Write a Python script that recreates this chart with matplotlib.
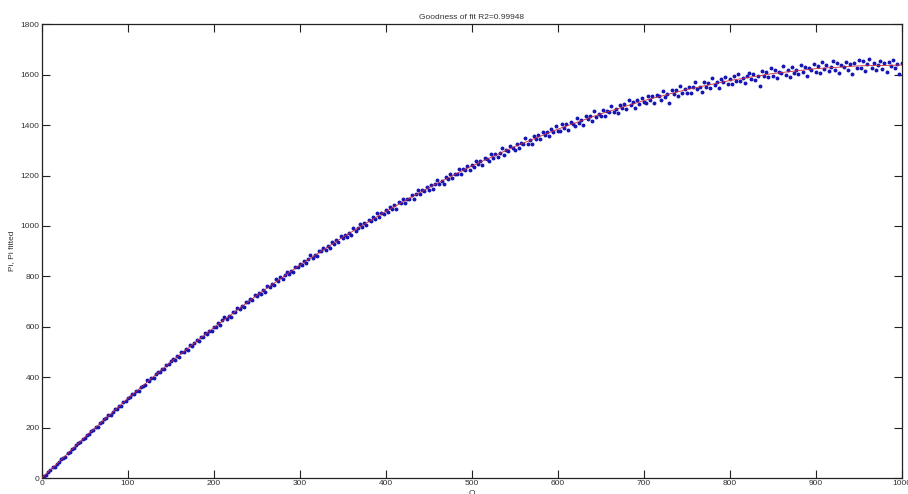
import numpy as np
import matplotlib
matplotlib.use("Agg")
import matplotlib.pyplot as plt

plt.rcParams['font.family'] = ['Liberation Sans', 'DejaVu Sans']

title_text = "Goodness of fit R2=0.99948"
x_label = "Q"
y_label = "Pi, Pi fitted"

x_ticks = [0, 100, 200, 300, 400, 500, 600, 700, 800, 900, 1000]
y_ticks = [0, 200, 400, 600, 800, 1000, 1200, 1400, 1600, 1800]

# fitted curve, sampled every 50 units of Q
q_fit = [0, 50, 100, 150, 200, 250, 300, 350, 400, 450, 500,
         550, 600, 650, 700, 750, 800, 850, 900, 950, 1000]
p_fit = [0, 162.1, 315.6, 460.6, 597.0, 724.9, 844.3, 955.3, 1057.7, 1151.8, 1237.5,
         1314.8, 1383.8, 1444.5, 1496.8, 1540.9, 1576.7, 1604.3, 1623.7, 1634.9, 1638.0]

# measured Pi, one value every 2.5 units of Q (2.5 ... 1000)
q_obs = np.arange(1, 401) * 2.5
p_obs = [
    9, 14, 26, 31, 44, 46, 58, 63, 75, 81, 86, 100, 104, 116, 118, 131, 141, 144, 155, 160,
    172, 175, 189, 192, 203, 203, 218, 222, 236, 238, 250, 250, 263, 276, 274, 287, 287, 304, 306, 317,
    321, 335, 333, 347, 346, 363, 367, 369, 388, 386, 398, 397, 412, 422, 421, 433, 432, 450, 452, 464,
    471, 469, 483, 480, 501, 500, 511, 509, 530, 526, 537, 547, 542, 559, 561, 577, 573, 585, 584, 601,
    600, 616, 608, 626, 638, 630, 643, 641, 660, 659, 675, 670, 682, 678, 699, 698, 710, 706, 726, 722,
    736, 730, 745, 739, 763, 758, 771, 767, 789, 783, 797, 789, 804, 816, 810, 823, 817, 837, 836, 850,
    846, 863, 852, 870, 883, 872, 885, 881, 900, 899, 914, 906, 920, 911, 935, 930, 944, 937, 960, 953,
    966, 957, 974, 964, 990, 982, 992, 1007, 994, 1011, 1002, 1023, 1020, 1035, 1026, 1050, 1034, 1050, 1048, 1065,
    1056, 1077, 1069, 1082, 1068, 1094, 1090, 1107, 1091, 1108, 1105, 1123, 1108, 1126, 1142, 1126, 1143, 1139, 1155, 1142,
    1163, 1148, 1168, 1182, 1167, 1179, 1168, 1195, 1186, 1206, 1191, 1207, 1206, 1227, 1206, 1226, 1220, 1239, 1220, 1241,
    1233, 1257, 1246, 1259, 1242, 1270, 1267, 1257, 1286, 1271, 1287, 1275, 1289, 1308, 1283, 1303, 1297, 1318, 1309, 1301,
    1327, 1309, 1329, 1325, 1348, 1327, 1341, 1326, 1357, 1346, 1360, 1345, 1374, 1362, 1372, 1355, 1384, 1371, 1398, 1376,
    1376, 1403, 1389, 1403, 1382, 1412, 1406, 1395, 1427, 1408, 1421, 1401, 1435, 1424, 1437, 1418, 1455, 1431, 1444, 1435,
    1459, 1435, 1457, 1452, 1476, 1450, 1465, 1446, 1481, 1466, 1482, 1464, 1500, 1480, 1490, 1469, 1500, 1485, 1509, 1493,
    1486, 1515, 1498, 1514, 1488, 1521, 1514, 1499, 1536, 1512, 1525, 1489, 1538, 1525, 1539, 1516, 1556, 1528, 1544, 1529,
    1553, 1527, 1550, 1569, 1542, 1553, 1531, 1569, 1553, 1568, 1547, 1587, 1558, 1569, 1549, 1582, 1569, 1590, 1564, 1583,
    1563, 1593, 1576, 1604, 1575, 1588, 1566, 1596, 1605, 1584, 1603, 1577, 1596, 1554, 1616, 1595, 1609, 1589, 1627, 1596,
    1619, 1588, 1612, 1605, 1635, 1599, 1619, 1590, 1630, 1608, 1617, 1601, 1638, 1609, 1630, 1593, 1627, 1618, 1642, 1612,
    1633, 1605, 1649, 1621, 1640, 1613, 1631, 1656, 1620, 1645, 1606, 1637, 1629, 1652, 1620, 1643, 1603, 1648, 1628, 1657,
    1625, 1653, 1614, 1642, 1661, 1628, 1648, 1619, 1639, 1656, 1624, 1645, 1611, 1652, 1633, 1660, 1627, 1643, 1603, 1648,
]

fig = plt.figure(figsize=(9.08, 4.94), dpi=100)
ax = fig.add_axes([0.046, 0.032, 0.947, 0.919])

ax.plot(q_obs, p_obs, linestyle='none', marker='.', markersize=3.6,
        color='#1616b4', zorder=2)
ax.plot(q_fit, p_fit, color='#c8283c', linewidth=0.6, zorder=3)

ax.set_xlim(0, 1000)
ax.set_ylim(0, 1800)
ax.set_xticks(x_ticks)
ax.set_yticks(y_ticks)
ax.set_xticklabels([str(v) for v in x_ticks])
ax.set_yticklabels([str(v) for v in y_ticks])

text_color = '#333333'
ax.tick_params(direction='in', length=6, width=0.8, top=True, right=True,
               labelsize=6, colors='#222222', labelcolor=text_color, pad=1.5)
for s in ax.spines.values():
    s.set_linewidth(0.9)
    s.set_color('#222222')

ax.set_title(title_text, fontsize=6, color=text_color, pad=4)
ax.set_ylabel(y_label, fontsize=6, color=text_color, labelpad=4)
ax.set_xlabel(x_label, fontsize=6, color=text_color, labelpad=2)

fig.savefig("out.png", dpi=100, facecolor='white')
